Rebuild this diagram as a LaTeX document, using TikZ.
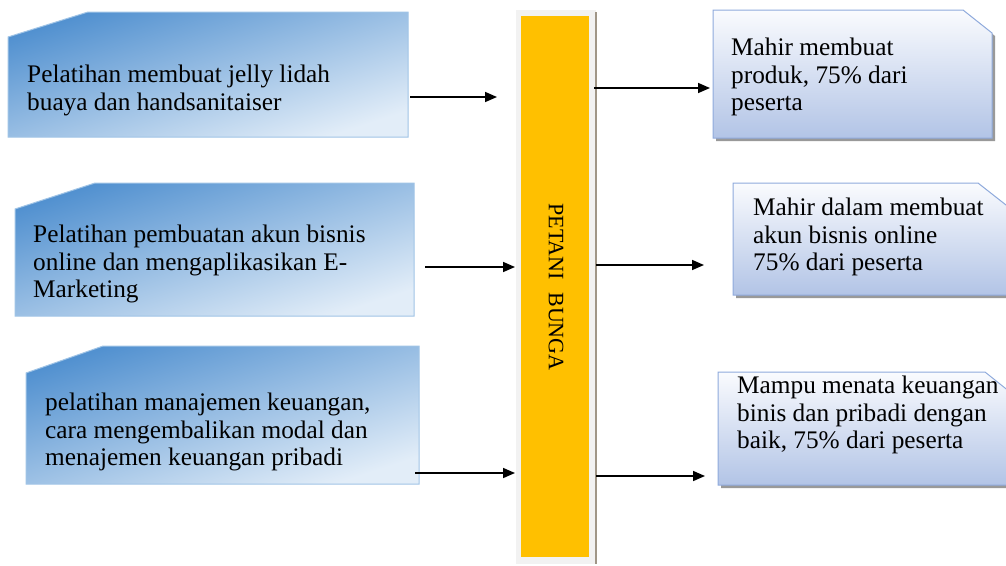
\documentclass[tikz,border=0pt]{standalone}
\usepackage{fontspec}
\setmainfont{Liberation Serif}
\usetikzlibrary{arrows.meta}
\definecolor{lbdark}{RGB}{82,145,208}
\definecolor{lblight}{RGB}{226,237,248}
\definecolor{lbborder}{RGB}{160,196,230}
\definecolor{rbtop}{RGB}{250,251,254}
\definecolor{rbbot}{RGB}{178,196,230}
\definecolor{rbborder}{RGB}{143,170,220}
\definecolor{barorange}{RGB}{255,192,0}
\definecolor{barframe}{RGB}{242,242,242}
\definecolor{baredge}{RGB}{160,150,135}
\tikzset{
  leftbox/.style={top color=lbdark, bottom color=lblight, shading angle=18, draw=lbborder, line width=1pt},
  rightbox/.style={top color=rbtop, bottom color=rbbot, draw=rbborder, line width=1pt},
  shadowbox/.style={fill=black!40},
  txt/.style={anchor=north west, inner sep=0pt, align=left, font=\fontsize{25.3}{27.5}\selectfont},
  arr/.style={line width=1.6pt, -{Triangle[length=12pt,width=10pt]}},
}
\begin{document}
\begin{tikzpicture}[x=1pt,y=-1pt]
\useasboundingbox (0,0) rectangle (1006,565);
\clip (0,0) rectangle (1006,565);
% left boxes
\path[leftbox] (8,37) -- (88,12) -- (408,12) -- (408,137) -- (8,137) -- cycle;
\path[leftbox] (15,209) -- (95,183) -- (414,183) -- (414,316) -- (15,316) -- cycle;
\path[leftbox] (26,373) -- (103,346) -- (419,346) -- (419,484) -- (26,484) -- cycle;
\node[txt] (l1) at (27,65) {Pelatihan membuat jelly lidah\\buaya dan handsanitaiser};
\node[txt] (l2) at (33,225) {Pelatihan pembuatan akun bisnis\\online dan mengaplikasikan E-\\Marketing};
\node[txt] (l3) at (45,393) {pelatihan manajemen keuangan,\\cara mengembalikan modal dan\\menajemen keuangan pribadi};
% right boxes
\path[shadowbox, shift={(3,3)}] (713,10) -- (963,10) -- (992,33) -- (992,138) -- (713,138) -- cycle;
\path[rightbox] (713,10) -- (963,10) -- (992,33) -- (992,138) -- (713,138) -- cycle;
\path[shadowbox, shift={(3,3)}] (733,183) -- (978,183) -- (1020,216) -- (1020,295) -- (733,295) -- cycle;
\path[rightbox] (733,183) -- (978,183) -- (1020,216) -- (1020,295) -- (733,295) -- cycle;
\path[shadowbox, shift={(3,3)}] (718,372) -- (985,372) -- (1025,404) -- (1025,485) -- (718,485) -- cycle;
\path[rightbox] (718,372) -- (985,372) -- (1025,404) -- (1025,485) -- (718,485) -- cycle;
\node[txt] (r1) at (731,38) {Mahir membuat\\produk, 75\% dari\\peserta};
\node[txt] (r2) at (753,198) {Mahir dalam membuat\\akun bisnis online\\75\% dari peserta};
\node[txt] (r3) at (737,376) {Mampu menata keuangan\\binis dan pribadi dengan\\baik, 75\% dari peserta};
% central bar
\path[fill=barframe] (516,10) rectangle (596,564);
\draw[baredge, line width=1.2pt] (596,12) -- (596,564);
\node[fill=barorange, minimum width=68pt, minimum height=541pt, inner sep=0pt] (bar) at (555,286.5) {};
\node[rotate=-90, inner sep=0pt, font=\fontsize{22}{26}\selectfont] (bartext) at (556,287) {PETANI\hspace{7pt} BUNGA};
% arrows
\coordinate (a1s) at (410,97);  \coordinate (a1e) at (497,97);
\coordinate (a2s) at (425,267); \coordinate (a2e) at (515,267);
\coordinate (a3s) at (415,473); \coordinate (a3e) at (515,473);
\coordinate (b1s) at (594,88);  \coordinate (b1e) at (710,88);
\coordinate (b2s) at (596,265); \coordinate (b2e) at (704,265);
\coordinate (b3s) at (596,476); \coordinate (b3e) at (705,476);
\draw[arr] (a1s) -- (a1e);
\draw[arr] (a2s) -- (a2e);
\draw[arr] (a3s) -- (a3e);
\draw[arr] (b1s) -- (b1e);
\draw[arr] (b2s) -- (b2e);
\draw[arr] (b3s) -- (b3e);
\end{tikzpicture}
\end{document}
